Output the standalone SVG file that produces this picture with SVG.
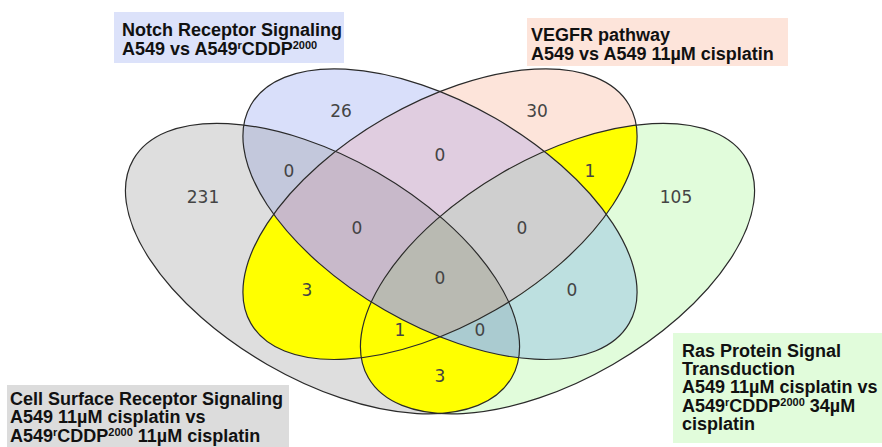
<svg xmlns="http://www.w3.org/2000/svg" xmlns:xlink="http://www.w3.org/1999/xlink" width="882" height="447" viewBox="0 0 882 447">
<style>
.num{font-family:"DejaVu Sans","Liberation Sans",sans-serif;font-size:17px;fill:#444;text-anchor:middle}
.lbl{font-family:"Liberation Sans",Arial,sans-serif;font-size:18px;font-weight:bold;fill:#111}
.sup{font-size:11px}
.edge{fill:none;stroke:#2a2a2a;stroke-width:1.2}
</style>
<defs>
<ellipse id="eA" cx="0" cy="0" rx="218.4" ry="110.7" transform="translate(322.5 268.6) rotate(30)"/>
<ellipse id="eB" cx="0" cy="0" rx="218.4" ry="110.7" transform="translate(440 214.2) rotate(30)"/>
<ellipse id="eC" cx="0" cy="0" rx="218.4" ry="110.7" transform="translate(440 214.2) rotate(-30)"/>
<ellipse id="eD" cx="0" cy="0" rx="218.4" ry="110.7" transform="translate(557.5 268.6) rotate(-30)"/>
<clipPath id="cA"><use xlink:href="#eA" href="#eA"/></clipPath>
<clipPath id="cB"><use xlink:href="#eB" href="#eB"/></clipPath>
<clipPath id="cC"><use xlink:href="#eC" href="#eC"/></clipPath>
<clipPath id="cD"><use xlink:href="#eD" href="#eD"/></clipPath>
</defs>
<rect width="882" height="447" fill="#ffffff"/>
<g id="regions">
<use href="#eA" fill="#dedede"/>
<use href="#eB" fill="#d9dffa"/>
<use href="#eC" fill="#fde4da"/>
<use href="#eD" fill="#e1fcdb"/>
<g clip-path="url(#cA)"><use href="#eB" fill="#c3c8dc"/></g>
<g clip-path="url(#cA)"><use href="#eC" fill="#ffff00"/></g>
<g clip-path="url(#cA)"><use href="#eD" fill="#ffff00"/></g>
<g clip-path="url(#cB)"><use href="#eC" fill="#e0cde0"/></g>
<g clip-path="url(#cB)"><use href="#eD" fill="#bde0e0"/></g>
<g clip-path="url(#cC)"><use href="#eD" fill="#ffff00"/></g>
<g clip-path="url(#cA)"><g clip-path="url(#cB)"><use href="#eC" fill="#c8b9ca"/></g></g>
<g clip-path="url(#cA)"><g clip-path="url(#cB)"><use href="#eD" fill="#aacbd0"/></g></g>
<g clip-path="url(#cA)"><g clip-path="url(#cC)"><use href="#eD" fill="#ffff00"/></g></g>
<g clip-path="url(#cB)"><g clip-path="url(#cC)"><use href="#eD" fill="#cfcfcf"/></g></g>
<g clip-path="url(#cA)"><g clip-path="url(#cB)"><g clip-path="url(#cC)"><use href="#eD" fill="#b9bab2"/></g></g></g>
</g>
<g id="outlines">
<use href="#eA" class="edge"/>
<use href="#eB" class="edge"/>
<use href="#eC" class="edge"/>
<use href="#eD" class="edge"/>
</g>
<g id="counts">
<text class="num" x="341" y="117">26</text>
<text class="num" x="537" y="117">30</text>
<text class="num" x="203" y="203">231</text>
<text class="num" x="676" y="203">105</text>
<text class="num" x="289" y="177">0</text>
<text class="num" x="590" y="177">1</text>
<text class="num" x="440" y="161">0</text>
<text class="num" x="357" y="234">0</text>
<text class="num" x="522" y="234">0</text>
<text class="num" x="307" y="296">3</text>
<text class="num" x="572" y="296">0</text>
<text class="num" x="440" y="284">0</text>
<text class="num" x="400" y="336">1</text>
<text class="num" x="480" y="336">0</text>
<text class="num" x="440" y="382">3</text>
</g>
<g id="label-notch">
<rect x="114" y="12" width="230" height="51" fill="#dce2fa"/>
<text class="lbl" x="122" y="36">Notch Receptor Signaling</text>
<text class="lbl" x="122" y="55">A549 vs A549<tspan class="sup" dy="-6">r</tspan><tspan dy="6">CDDP</tspan><tspan class="sup" dy="-6">2000</tspan></text>
</g>
<g id="label-vegfr">
<rect x="527" y="18" width="261" height="48" fill="#fde4da"/>
<text class="lbl" x="531" y="40.5">VEGFR pathway</text>
<text class="lbl" x="531" y="59.5">A549 vs A549 11µM cisplatin</text>
</g>
<g id="label-ras">
<rect x="673" y="333" width="209" height="110" fill="#e1fcdb"/>
<text class="lbl" x="682" y="356.5">Ras Protein Signal</text>
<text class="lbl" x="682" y="375">Transduction</text>
<text class="lbl" x="682" y="393.3">A549 11µM cisplatin vs</text>
<text class="lbl" x="682" y="411.7">A549<tspan class="sup" dy="-6">r</tspan><tspan dy="6">CDDP</tspan><tspan class="sup" dy="-6">2000</tspan><tspan dy="6"> 34µM</tspan></text>
<text class="lbl" x="682" y="430">cisplatin</text>
</g>
<g id="label-cell">
<rect x="7" y="385" width="282" height="62" fill="#dcdcdc"/>
<text class="lbl" x="10" y="405">Cell Surface Receptor Signaling</text>
<text class="lbl" x="10" y="423.3">A549 11µM cisplatin vs</text>
<text class="lbl" x="10" y="441.7">A549<tspan class="sup" dy="-6">r</tspan><tspan dy="6">CDDP</tspan><tspan class="sup" dy="-6">2000</tspan><tspan dy="6"> 11µM cisplatin</tspan></text>
</g>
</svg>
